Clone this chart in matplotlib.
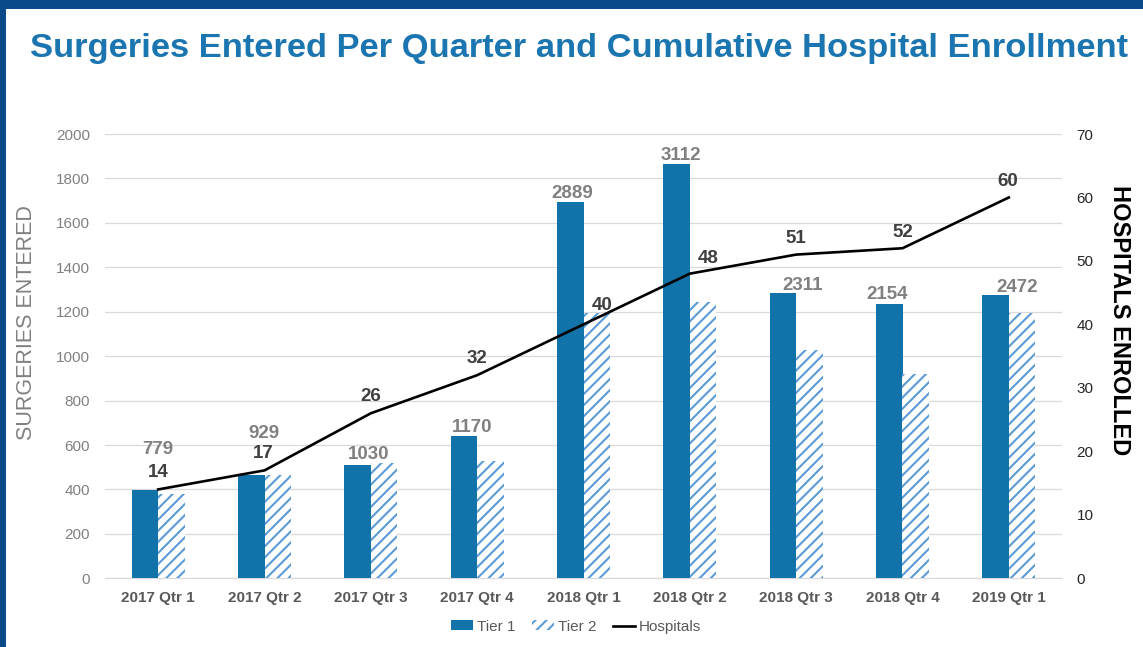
import matplotlib
matplotlib.use("Agg")
import matplotlib.pyplot as plt
import numpy as np
from matplotlib.patches import Rectangle
from matplotlib.lines import Line2D

plt.rcParams['font.family'] = ['Liberation Sans', 'DejaVu Sans']
plt.rcParams['hatch.linewidth'] = 1.5

# ---------------- data ----------------
quarters = ["2017 Qtr 1", "2017 Qtr 2", "2017 Qtr 3", "2017 Qtr 4", "2018 Qtr 1",
            "2018 Qtr 2", "2018 Qtr 3", "2018 Qtr 4", "2019 Qtr 1"]
tier1 = [398, 466, 512, 642, 1695, 1866, 1285, 1233, 1276]
tier2 = [381, 463, 518, 528, 1194, 1246, 1026, 921, 1196]
hospitals = [14, 17, 26, 32, 40, 48, 51, 52, 60]
left_ticks = [0, 200, 400, 600, 800, 1000, 1200, 1400, 1600, 1800, 2000]
right_ticks = [0, 10, 20, 30, 40, 50, 60, 70]

# ---------------- label layout (offsets in points) ----------------
total_dx = [-0.5, -0.4, -1.7, -3.4, -8.3, -6.7, 5.0, -10.8, 6.3]
total_dy = [25.9, 26.4, 4.3, 2.6, 2.4, 2.4, 1.9, 4.1, 1.7]
hosp_dx = [0, -0.7, 0, 0, 13.7, 13.0, 0, 0, -0.7]
hosp_dy = [9.2, 8.7, 9.1, 8.9, 10.3, 7.4, 8.2, 8.2, 8.2]

# ---------------- styles ----------------
c_frame = "#0B4A8A"
c_title = "#1B75B0"
c_t1 = "#1272AA"
c_t2 = "#5B9BD5"
c_grid = "#D9D9D9"
c_gray = "#808080"
c_dark = "#404040"

W, H = 1143, 647
fig = plt.figure(figsize=(W / 100, H / 100), dpi=100)
fig.patch.set_facecolor("white")

# frame (top and left bars)
fig.patches.append(Rectangle((0, 1 - 9 / H), 1, 9 / H, transform=fig.transFigure,
                             facecolor=c_frame, edgecolor="none", zorder=0))
fig.patches.append(Rectangle((0, 0), 6 / W, 1, transform=fig.transFigure,
                             facecolor=c_frame, edgecolor="none", zorder=0))

ax = fig.add_axes([105 / W, (H - 578.3) / H, (1062 - 105) / W, (578.3 - 134) / H])
ax2 = ax.twinx()
ax.set_zorder(1)
ax2.set_zorder(2)
ax2.patch.set_visible(False)

x = np.arange(len(quarters))
bw = 0.25
b1 = ax.bar(x - bw / 2, tier1, bw, color=c_t1, linewidth=0, zorder=3)
b2 = ax.bar(x + bw / 2, tier2, bw, facecolor="white", edgecolor=c_t2, hatch="///",
            linewidth=0, zorder=3)

ax.set_xlim(-0.5, len(quarters) - 0.5)
ax.set_ylim(0, 2000)
ax.set_yticks(left_ticks)
ax.set_xticks(x)
ax.set_xticklabels(quarters, fontsize=11, fontweight="bold", color="#595959")
ax.tick_params(axis="x", length=0, pad=9)
ax.tick_params(axis="y", length=0, pad=10.8, labelsize=11, labelcolor=c_gray)
ax.grid(axis="y", color=c_grid, linewidth=0.9, zorder=0)
for s in ["top", "right", "left"]:
    ax.spines[s].set_visible(False)
ax.spines["bottom"].set_color(c_grid)
ax.spines["bottom"].set_linewidth(0.9)

ax2.plot(x, hospitals, color="black", linewidth=1.9, zorder=4)
ax2.set_ylim(0, 70)
ax2.set_yticks(right_ticks)
ax2.tick_params(axis="y", length=0, pad=10.6, labelsize=11, labelcolor="#262626")
for s in ["top", "right", "left", "bottom"]:
    ax2.spines[s].set_visible(False)

# value labels
for i in range(len(quarters)):
    tot = tier1[i] + tier2[i]
    ax.annotate(str(tot), xy=(x[i], tier1[i]), xytext=(total_dx[i], total_dy[i]),
                textcoords="offset points", ha="center", va="baseline",
                fontsize=13.5, fontweight="bold", color=c_gray, zorder=6)
    ax2.annotate(str(hospitals[i]), xy=(x[i], hospitals[i]), xytext=(hosp_dx[i], hosp_dy[i]),
                 textcoords="offset points", ha="center", va="baseline",
                 fontsize=13.5, fontweight="bold", color=c_dark, zorder=6)

# titles / axis labels
fig.text(579 / W, (H - 57) / H, "Surgeries Entered Per Quarter and Cumulative Hospital Enrollment",
         ha="center", va="baseline", fontsize=24.8, fontweight="bold", color=c_title)
fig.text(27 / W, (H - 323) / H, "SURGERIES ENTERED", rotation=90, ha="center", va="center",
         fontsize=15.5, color=c_gray)
fig.text(1119.3 / W, (H - 320) / H, "HOSPITALS ENROLLED", rotation=270, ha="center", va="center",
         fontsize=17, fontweight="bold", color="black")

# legend
handles = [Rectangle((0, 0), 1, 1, facecolor=c_t1, linewidth=0),
           Rectangle((0, 0), 1, 1, facecolor="white", edgecolor=c_t2, hatch="///", linewidth=0),
           Line2D([0], [0], color="black", linewidth=1.9)]
fig.legend(handles, ["Tier 1", "Tier 2", "Hospitals"], loc="center",
           bbox_to_anchor=(576 / W, (H - 626.7) / H), ncol=3, frameon=False,
           fontsize=11, labelcolor="#595959", handlelength=1.45, handleheight=0.6,
           handletextpad=0.25, columnspacing=1.1)

fig.savefig("out.png", dpi=100, facecolor="white")
